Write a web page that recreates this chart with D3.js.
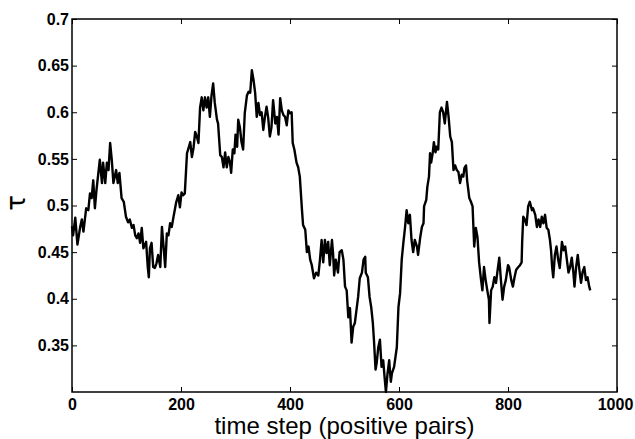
<!DOCTYPE html>
<html>
<head>
<meta charset="utf-8">
<script src="https://cdn.jsdelivr.net/npm/d3@7"></script>
<style>
  body { margin: 0; background: #fff; }
  svg { display: block; }
</style>
</head>
<body>
<svg id="chart" width="635" height="439"></svg>
<script>
// time step of each sample (positive pairs)
var steps = [0,2,6,10,15,18,21,26,30,33,36,39,42,45,51,55,57,61,64,67,70,73,76,81,84,87,91,95,99,103,
  106,110,113,116,119,122,125,128,131,136,139,141,143,146,149,152,155,158,162,165,168,171,174,177,180,183,186,191,195,198,
  201,204,207,211,213,217,220,223,226,229,232,235,238,241,244,247,250,253,256,259,262,266,268,272,275,278,281,284,287,290,
  292,295,298,300,303,305,308,311,314,317,321,324,327,330,333,336,339,342,345,348,351,354,357,360,363,366,369,373,376,379,
  382,385,388,391,394,397,400,403,405,408,412,415,418,422,424,428,431,434,437,440,444,448,452,455,458,461,464,467,470,473,
  477,479,481,484,488,491,495,498,501,504,507,510,513,516,519,522,525,528,532,535,538,539,543,546,549,552,554,557,559,562,
  565,568,571,574,576,579,582,585,587,591,596,599,602,605,608,611,614,617,620,623,626,629,633,635,639,642,645,646,650,652,
  655,657,659,662,664,667,669,672,675,678,681,684,688,691,694,697,700,703,706,709,712,715,718,720,723,725,729,732,735,738,
  741,744,747,750,753,756,759,762,765,766,769,772,775,778,781,784,787,790,793,796,800,802,806,809,812,815,819,822,825,826,
  828,831,834,837,840,844,846,850,853,856,859,862,865,868,871,874,877,879,881,883,886,889,892,895,899,902,905,908,911,914,
  917,920,922,925,928,931,934,937,940,943,946,949,951];

// tau values
var tau = [0.478,0.468,0.487,0.458,0.477,0.485,0.472,0.497,0.495,0.513,0.508,0.527,0.497,0.517,0.549,0.524,0.546,0.524,0.546,0.538,0.567,0.549,0.524,0.538,0.524,0.535,0.508,0.504,0.488,0.482,
  0.485,0.476,0.479,0.468,0.465,0.470,0.460,0.476,0.454,0.461,0.434,0.423,0.454,0.460,0.434,0.433,0.438,0.447,0.434,0.477,0.456,0.434,0.470,0.468,0.481,0.477,0.487,0.503,0.511,0.498,
  0.514,0.511,0.513,0.556,0.560,0.568,0.552,0.562,0.579,0.574,0.567,0.605,0.616,0.602,0.616,0.605,0.616,0.595,0.618,0.631,0.610,0.592,0.588,0.554,0.552,0.541,0.557,0.541,0.552,0.546,
  0.535,0.560,0.556,0.576,0.563,0.592,0.584,0.568,0.560,0.599,0.618,0.622,0.621,0.645,0.635,0.621,0.595,0.610,0.597,0.600,0.581,0.595,0.606,0.594,0.574,0.584,0.613,0.588,0.595,0.576,
  0.615,0.602,0.597,0.595,0.586,0.602,0.599,0.600,0.567,0.560,0.546,0.541,0.531,0.495,0.479,0.474,0.450,0.456,0.442,0.436,0.422,0.428,0.425,0.442,0.463,0.439,0.463,0.449,0.461,0.436,
  0.463,0.449,0.425,0.442,0.428,0.450,0.452,0.442,0.413,0.409,0.380,0.390,0.353,0.370,0.374,0.388,0.402,0.422,0.428,0.442,0.445,0.428,0.423,0.402,0.391,0.374,0.356,0.324,0.331,0.348,
  0.356,0.327,0.334,0.313,0.300,0.320,0.334,0.311,0.320,0.327,0.348,0.391,0.406,0.442,0.460,0.476,0.495,0.481,0.490,0.463,0.450,0.463,0.456,0.447,0.466,0.477,0.481,0.499,0.506,0.520,
  0.531,0.556,0.546,0.557,0.568,0.557,0.563,0.560,0.600,0.605,0.600,0.588,0.611,0.595,0.574,0.568,0.538,0.543,0.538,0.536,0.524,0.533,0.531,0.540,0.543,0.527,0.508,0.504,0.499,0.456,
  0.476,0.466,0.439,0.423,0.409,0.434,0.420,0.409,0.399,0.374,0.409,0.413,0.423,0.417,0.431,0.444,0.420,0.399,0.413,0.420,0.436,0.434,0.420,0.413,0.423,0.431,0.434,0.436,0.439,0.461,
  0.488,0.485,0.479,0.499,0.504,0.495,0.497,0.490,0.477,0.485,0.477,0.488,0.481,0.490,0.476,0.474,0.463,0.452,0.434,0.423,0.447,0.456,0.442,0.433,0.461,0.452,0.456,0.442,0.428,0.434,
  0.444,0.428,0.413,0.434,0.447,0.431,0.417,0.429,0.434,0.420,0.423,0.413,0.409];

var xTicks = [0, 200, 400, 600, 800, 1000];
var yTicks = [0.35, 0.4, 0.45, 0.5, 0.55, 0.6, 0.65, 0.7];

var margin = {top: 19, right: 18, bottom: 47, left: 72},
    width = 635 - margin.left - margin.right,
    height = 439 - margin.top - margin.bottom;

var svg = d3.select("#chart");
var g = svg.append("g").attr("transform", "translate(" + margin.left + "," + margin.top + ")");

var x = d3.scaleLinear().domain([0, 1000]).range([0, width]);
var y = d3.scaleLinear().domain([0.3, 0.7]).range([height, 0]);

var data = steps.map(function(s, i) { return {step: s, tau: tau[i]}; });

// axes, ticks pointing inward
var xAxis = g.append("g")
  .attr("transform", "translate(0," + height + ")")
  .call(d3.axisBottom(x).tickValues(xTicks).tickFormat(d3.format("d"))
    .tickSizeInner(-5).tickSizeOuter(0).tickPadding(7));

var yAxis = g.append("g")
  .call(d3.axisLeft(y).tickValues(yTicks).tickFormat(function(d) { return String(+d.toFixed(2)); })
    .tickSizeInner(-5).tickSizeOuter(0).tickPadding(3));

// mirrored ticks on top and right
g.append("g")
  .call(d3.axisTop(x).tickValues(xTicks).tickFormat("").tickSizeInner(-5).tickSizeOuter(0));
g.append("g")
  .attr("transform", "translate(" + width + ",0)")
  .call(d3.axisRight(y).tickValues(yTicks).tickFormat("").tickSizeInner(-5).tickSizeOuter(0));

g.selectAll(".domain").remove();
g.selectAll(".tick line").attr("stroke", "#000").attr("stroke-width", 1);
// the axis groups set their own font, override on the groups
g.selectAll("g")
  .attr("font-family", "Liberation Sans, Arial, sans-serif")
  .attr("font-weight", "bold")
  .attr("font-size", 16);
g.selectAll(".tick text").attr("fill", "#000");
// keep the last x label inside the window
xAxis.selectAll(".tick text").filter(function(d) { return d === 1000; }).attr("dx", "-2");

var line = d3.line()
  .x(function(d) { return x(d.step); })
  .y(function(d) { return y(d.tau); });

g.append("path")
  .datum(data)
  .attr("fill", "none")
  .attr("stroke", "#000")
  .attr("stroke-width", 2.4)
  .attr("stroke-linejoin", "round")
  .attr("d", line);

// box
g.append("rect")
  .attr("width", width)
  .attr("height", height)
  .attr("fill", "none")
  .attr("stroke", "#000")
  .attr("stroke-width", 1.5);

svg.append("text")
  .attr("x", margin.left + width / 2)
  .attr("y", 434)
  .attr("text-anchor", "middle")
  .style("font-family", "'Liberation Sans', Arial, sans-serif")
  .style("font-size", "24px")
  .text("time step (positive pairs)");

svg.append("text")
  .attr("transform", "translate(25,203) rotate(-90)")
  .attr("text-anchor", "middle")
  .style("font-family", "'DejaVu Sans', sans-serif")
  .style("font-size", "26px")
  .text("τ");
</script>
</body>
</html>
